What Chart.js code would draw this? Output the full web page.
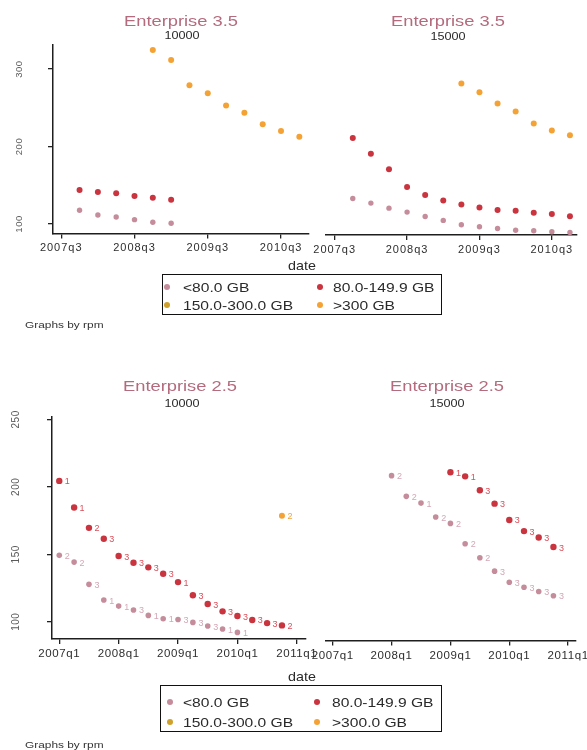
<!DOCTYPE html>
<html><head><meta charset="utf-8">
<script src="https://cdn.jsdelivr.net/npm/chart.js@4.4.1/dist/chart.umd.min.js"></script>
<style>
html,body{margin:0;padding:0;background:#fff;}
#page{position:relative;width:587px;height:750px;overflow:hidden;font-family:"Liberation Sans",Arial,sans-serif;color:#2a2a2a;}
canvas{position:absolute;left:0;top:0;}
.t{position:absolute;white-space:nowrap;transform:translate(-50%,-50%) scaleX(var(--sx,1));line-height:1;}
.l{position:absolute;white-space:nowrap;transform-origin:0 50%;transform:translateY(-50%) scaleX(var(--sx,1));line-height:1;}
.box{position:absolute;border:1.5px solid #111;box-sizing:border-box;}
.dot{position:absolute;width:6px;height:6px;border-radius:50%;transform:translate(-50%,-50%);}
.title{font-size:15px;color:#b36b7d;--sx:1.22;}
.sub{font-size:11px;color:#2a2a2a;--sx:1.15;}
.leg{font-size:13px;color:#2a2a2a;--sx:1.2;}
.note{font-size:9.5px;color:#333;--sx:1.25;}
</style></head>
<body><div id="page">
<canvas id="c1" width="587" height="750"></canvas>
<canvas id="c2" width="587" height="750"></canvas>
<canvas id="c3" width="587" height="750"></canvas>
<canvas id="c4" width="587" height="750"></canvas>

<div class="t title" style="left:180.5px;top:19.5px">Enterprise 3.5</div>
<div class="t sub" style="left:182px;top:35px">10000</div>
<div class="t title" style="left:448px;top:20px">Enterprise 3.5</div>
<div class="t sub" style="left:448px;top:36px">15000</div>
<div class="t" style="left:301.7px;top:265px;font-size:13px;--sx:1.1">date</div>
<div class="box" style="left:161.7px;top:274px;width:280px;height:41px"></div>
<div class="dot" style="left:167.3px;top:287.3px;background:#c58d9c"></div>
<div class="l leg" style="left:182.7px;top:287.3px">&lt;80.0 GB</div>
<div class="dot" style="left:320px;top:287.3px;background:#c9343f"></div>
<div class="l leg" style="left:333.3px;top:287.3px">80.0-149.9 GB</div>
<div class="dot" style="left:167.3px;top:305px;background:#d0a12a"></div>
<div class="l leg" style="left:182.7px;top:305px">150.0-300.0 GB</div>
<div class="dot" style="left:320px;top:305px;background:#f5a235"></div>
<div class="l leg" style="left:333.3px;top:305px">&gt;300 GB</div>
<div class="l note" style="left:25px;top:325px">Graphs by rpm</div>

<div class="t title" style="left:180px;top:385px">Enterprise 2.5</div>
<div class="t sub" style="left:182px;top:403px">10000</div>
<div class="t title" style="left:447px;top:385px">Enterprise 2.5</div>
<div class="t sub" style="left:447px;top:403px">15000</div>
<div class="t" style="left:301.7px;top:676px;font-size:13px;--sx:1.1">date</div>
<div class="box" style="left:160px;top:685px;width:281.7px;height:46.7px"></div>
<div class="dot" style="left:170px;top:701.7px;background:#c58d9c"></div>
<div class="l leg" style="left:182.7px;top:701.7px">&lt;80.0 GB</div>
<div class="dot" style="left:316.7px;top:701.7px;background:#c9343f"></div>
<div class="l leg" style="left:331.7px;top:701.7px">80.0-149.9 GB</div>
<div class="dot" style="left:170px;top:721.7px;background:#d0a12a"></div>
<div class="l leg" style="left:182.7px;top:721.7px">150.0-300.0 GB</div>
<div class="dot" style="left:316.7px;top:721.7px;background:#f5a235"></div>
<div class="l leg" style="left:331.7px;top:721.7px">&gt;300.0 GB</div>
<div class="l note" style="left:25px;top:745px">Graphs by rpm</div>
</div>
<script>
// ---------- data ----------
const quartersTop = ['2007q3','2007q4','2008q1','2008q2','2008q3','2008q4','2009q1','2009q2','2009q3','2009q4','2010q1','2010q2','2010q3','2010q4'];
const tickLabelsTop = ['2007q3','2008q3','2009q3','2010q3'];
const quartersBottom = ['2007q1','2007q2','2007q3','2007q4','2008q1','2008q2','2008q3','2008q4','2009q1','2009q2','2009q3','2009q4','2010q1','2010q2','2010q3','2010q4'];
const tickLabelsBottom = ['2007q1','2008q1','2009q1','2010q1','2011q1'];
const yTicksTop = [100, 200, 300];
const yTicksBottom = [100, 150, 200, 250];
const seriesNames = ['<80.0 GB', '80.0-149.9 GB', '150.0-300.0 GB', '>300 GB'];

// Enterprise 3.5, 10000 rpm
const e35r10_lt80   = [null, 117.7, 111.6, 109.0, 105.6, 102.2, 100.9, null, null, null, null, null, null, null];
const e35r10_80_149 = [null, 143.9, 141.3, 139.6, 136.1, 134.0, 131.4, null, null, null, null, null, null, null];
const e35r10_gt300  = [null, null, null, null, null, 324.5, 311.6, 279.0, 268.6, 253.0, 243.6, 228.6, 220.0, 212.6];
// Enterprise 3.5, 15000 rpm
const e35r15_lt80   = [null, 134.8, 128.8, 122.3, 117.2, 111.6, 106.5, 100.9, 98.3, 96.1, 93.9, 93.1, 91.9, 91.0];
const e35r15_80_149 = [null, 212.6, 192.5, 172.3, 149.4, 139.1, 132.3, 127.1, 123.2, 119.8, 119.0, 116.4, 114.6, 112.0];
const e35r15_gt300  = [null, null, null, null, null, null, null, 282.8, 271.6, 257.0, 246.7, 231.2, 222.2, 216.1];
// Enterprise 2.5, 10000 rpm
const e25r10_lt80   = [149.2, 144.2, 127.7, 116.1, 111.6, 108.7, 104.7, 102.2, 101.7, 99.5, 96.8, 94.6, 92.1, null, null, null];
const e25r10_lt80_n = ['2','2','3','1','1','3','1','1','3','3','3','1','1', null, null, null];
const e25r10_80_149 = [204.4, 184.7, 169.6, 161.5, 148.7, 143.7, 140.3, 135.6, 129.4, 119.6, 113.1, 107.7, 104.2, 101.3, 99.0, 97.3];
const e25r10_80_149_n = ['1','1','2','3','3','3','3','3','1','3','3','3','3','3','3','2'];
const e25r10_gt300  = [null, null, null, null, null, null, null, null, null, null, null, null, null, null, null, 178.5];
const e25r10_gt300_n = [null, null, null, null, null, null, null, null, null, null, null, null, null, null, null, '2'];
// Enterprise 2.5, 15000 rpm
const e25r15_lt80   = [null, null, null, null, 208.4, 193.1, 188.1, 177.8, 173.1, 158.1, 147.7, 137.8, 129.6, 125.9, 122.7, 119.6];
const e25r15_lt80_n = [null, null, null, null, '2','2','1','2','2','2','2','3','3','3','3','3'];
const e25r15_80_149 = [null, null, null, null, null, null, null, null, 210.9, 207.9, 197.6, 187.7, 175.6, 167.4, 162.7, 155.6];
const e25r15_80_149_n = [null, null, null, null, null, null, null, null, '1','1','3','3','3','3','3','3'];

// ---------- styling ----------
const FONT = '"Liberation Sans", Arial, sans-serif';
const COL = { lt80:'#c58d9c', mid:'#c9343f', big:'#d0a12a', gt300:'#f5a235' };
const LABCOL = { lt80:'#d3a7b5', mid:'#d8505b', gt300:'#f2a23a' };

function pts(vals){ return vals.map((v,i)=>({x:i, y:v})); }
function ds(name, vals, color, r, labels, labColor){
  return { label:name, data:pts(vals), backgroundColor:color, borderColor:color, borderWidth:0,
           pointRadius:r, pointHoverRadius:r, markLabels:labels || null, markColor:labColor || color };
}

const extras = {
  id:'extras',
  beforeDraw(chart, args, opts){ chart.ctx.letterSpacing = opts.ls || '0px'; },
  afterDatasetsDraw(chart, args, opts){
    const ctx = chart.ctx;
    ctx.save();
    ctx.letterSpacing = '0px';
    ctx.font = '9px ' + FONT; ctx.textAlign = 'left'; ctx.textBaseline = 'middle';
    chart.data.datasets.forEach((d, i) => {
      if (!d.markLabels) return;
      const meta = chart.getDatasetMeta(i);
      ctx.fillStyle = d.markColor;
      meta.data.forEach((el, j) => {
        const lab = d.markLabels[j];
        if (lab == null || el.skip) return;
        ctx.fillText(lab, el.x + 5.5, el.y + 1);
      });
    });
    ctx.restore();
  },
  afterDraw(chart, args, opts){
    if (!opts.yLabels) return;
    const ctx = chart.ctx, ys = chart.scales.y;
    ctx.save();
    ctx.letterSpacing = '0.5px';
    ctx.font = opts.yFont + 'px ' + FONT; ctx.fillStyle = '#5a5a5a';
    ctx.textAlign = 'center'; ctx.textBaseline = 'middle';
    ys.ticks.forEach(t => {
      const py = ys.getPixelForValue(t.value);
      ctx.save(); ctx.translate(opts.yLabelX, py); ctx.rotate(-Math.PI/2);
      ctx.fillText(String(t.value), 0, 0); ctx.restore();
    });
    ctx.restore();
  }
};

const W = 587, H = 750, XH = 20, YW = 8;
function panel(id, o){
  return new Chart(document.getElementById(id), {
    type:'scatter',
    data:{ datasets:o.datasets },
    options:{
      responsive:false, animation:false, events:[],
      layout:{ padding:{ left:o.L - (o.showY ? YW : 0), top:o.T, right:W - o.R, bottom:H - o.B - XH } },
      plugins:{ legend:{display:false}, tooltip:{enabled:false}, title:{display:false},
                extras:{ ls:o.ls, yLabels:o.showY, yLabelX:o.yLabelX, yFont:o.yFont } },
      scales:{
        x:{ type:'linear', min:o.xMin, max:o.xMax,
            afterBuildTicks: s => { s.ticks = o.tickIdx.map(v => ({value:v})); },
            afterFit: s => { s.height = XH; s.paddingLeft = 0; s.paddingRight = 0; },
            ticks:{ autoSkip:false, maxRotation:0, minRotation:0, padding:o.tickPad, color:'#2e2e2e',
                    font:{ family:FONT, size:o.tickSize }, callback:(v, i) => o.tickLabels[i] },
            grid:{ display:true, drawOnChartArea:false, drawTicks:true, tickLength:5, color:'#222', lineWidth:1.3 },
            border:{ display:true, color:'#1e1e1e', width:1.5 } },
        y:{ type:'linear', display:o.showY, min:o.yMin, max:o.yMax,
            afterBuildTicks: s => { s.ticks = o.yTicks.map(v => ({value:v})); },
            afterFit: s => { s.width = YW; s.paddingTop = 0; s.paddingBottom = 0; },
            ticks:{ display:false },
            grid:{ display:true, drawOnChartArea:false, drawTicks:true, tickLength:5, color:'#222', lineWidth:1.3 },
            border:{ display:true, color:'#1e1e1e', width:1.5 } }
      }
    },
    plugins:[extras]
  });
}

const topTickIdx = tickLabelsTop.map(l => quartersTop.indexOf(l));
const botTickIdx = [0, 4, 8, 12, 16];

panel('c1', { L:53, R:308.5, T:45, B:233.5, xMin:-0.45, xMax:13.5, yMin:87.7, yMax:331, yTicks:yTicksTop,
  tickIdx:topTickIdx, tickLabels:tickLabelsTop, tickSize:11, tickPad:3, ls:'1px', showY:true, yLabelX:19, yFont:9.5,
  datasets:[ ds(seriesNames[0], e35r10_lt80, COL.lt80, 2.7), ds(seriesNames[1], e35r10_80_149, COL.mid, 3),
             ds(seriesNames[3], e35r10_gt300, COL.gt300, 3) ] });
panel('c2', { L:318, R:577, T:45, B:235, xMin:-0.48, xMax:13.39, yMin:87.7, yMax:332.5, yTicks:yTicksTop,
  tickIdx:topTickIdx, tickLabels:tickLabelsTop, tickSize:11, tickPad:3, ls:'1px', showY:false,
  datasets:[ ds(seriesNames[0], e35r15_lt80, COL.lt80, 2.7), ds(seriesNames[1], e35r15_80_149, COL.mid, 3),
             ds(seriesNames[3], e35r15_gt300, COL.gt300, 3) ] });
panel('c3', { L:52, R:306, T:416.7, B:639, xMin:-0.49, xMax:16.62, yMin:87.2, yMax:252, yTicks:yTicksBottom,
  tickIdx:botTickIdx, tickLabels:tickLabelsBottom, tickSize:11.5, tickPad:3, ls:'0.6px', showY:true, yLabelX:16, yFont:10,
  datasets:[ ds(seriesNames[0], e25r10_lt80, COL.lt80, 2.8, e25r10_lt80_n, LABCOL.lt80),
             ds(seriesNames[1], e25r10_80_149, COL.mid, 3.2, e25r10_80_149_n, LABCOL.mid),
             ds('>300.0 GB', e25r10_gt300, COL.gt300, 3, e25r10_gt300_n, LABCOL.gt300) ] });
panel('c4', { L:317.5, R:575.5, T:416.7, B:640.5, xMin:-0.49, xMax:16.5, yMin:86.5, yMax:252, yTicks:yTicksBottom,
  tickIdx:botTickIdx, tickLabels:tickLabelsBottom, tickSize:11.5, tickPad:3, ls:'0.6px', showY:false,
  datasets:[ ds(seriesNames[0], e25r15_lt80, COL.lt80, 2.8, e25r15_lt80_n, LABCOL.lt80),
             ds(seriesNames[1], e25r15_80_149, COL.mid, 3.2, e25r15_80_149_n, LABCOL.mid) ] });
</script>
</body></html>
